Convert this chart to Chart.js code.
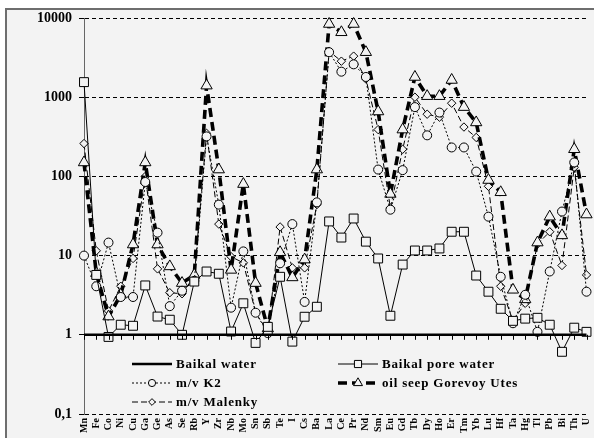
<!DOCTYPE html>
<html><head><meta charset="utf-8">
<script src="https://cdn.jsdelivr.net/npm/chart.js@4.4.0/dist/chart.umd.min.js"></script>
<style>
html,body{margin:0;padding:0;background:#fff;overflow:hidden;width:594px;height:438px;}
#frame{position:absolute;left:5px;top:8px;width:600px;height:440px;border:2px solid #6e6e6e;background:#f3f3f3;box-sizing:border-box;}
#wrap{position:absolute;left:0;top:0;width:594px;height:438px;}
canvas{display:block;}
</style></head><body>
<div id="frame"></div>
<div id="wrap"><canvas id="c" width="594" height="438" style="width:594px;height:438px"></canvas></div>
<script>
const elements = ["Mn","Fe","Co","Ni","Cu","Ga","Ge","As","Se","Rb","Y","Zr","Nb","Mo","Sn","Sb","Te","I","Cs","Ba","La","Ce","Pr","Nd","Sm","Eu","Gd","Tb","Dy","Ho","Er","Tm","Yb","Lu","Hf","Ta","Hg","Tl","Pb","Bi","Th","U"];
const baikalWater = [1,1,1,1,1,1,1,1,1,1,1,1,1,1,1,1,1,1,1,1,1,1,1,1,1,1,1,1,1,1,1,1,1,1,1,1,1,1,1,1,1,1];
const baikalPoreWater = [1550,5.7,0.94,1.34,1.3,4.2,1.7,1.55,1.0,4.7,6.3,5.9,1.1,2.5,0.79,1.26,5.4,0.82,1.69,2.26,27,16.9,29.4,15,9.2,1.74,7.7,11.6,11.6,12.3,20,20,5.6,3.5,2.13,1.5,1.6,1.64,1.34,0.61,1.23,1.09];
const mvK2 = [10,4.1,14.6,3.0,3.0,85,19.5,2.3,3.6,4.8,320,44,2.2,11.3,1.9,1.05,8,25,2.6,47,3700,2100,2600,1800,122,38,120,750,330,640,232,232,115,31,5.4,1.4,3.2,1.09,6.3,36,150,3.5];
const oilSeep = [150,6.0,1.7,3.2,13.8,150,13.8,7.3,4.5,5.7,1400,122,6.6,80,4.5,1.2,11,5.3,8.9,122,8400,6600,8400,3700,660,60,390,1800,1030,1030,1650,750,480,90,63,3.7,2.8,14.6,31,18,220,33];
const mvMalenky = [260,11.5,2.0,4.1,9.2,100,6.8,3.4,3.3,5.5,350,25,9.7,8.1,1.9,1.1,23,7,7,44,3800,2850,3300,1700,390,40,220,1000,610,560,840,420,310,75,4.1,1.5,2.5,14,20,7.5,130,5.7];
const yTickValues = [0.1,1,10,100,1000,10000];
const yTickLabels = ["0,1","1","10","100","1000","10000"];
const seriesNames = ["Baikal water","Baikal pore water","m/v K2","oil seep Gorevoy Utes","m/v Malenky"];

const BG = '#f3f3f3';
const serif = "'Liberation Serif','Times New Roman',serif";

function ds(label, data, extra){
  return Object.assign({label, data, borderColor:'#000', borderWidth:1, tension:0, clip:false,
    pointBackgroundColor:BG, pointBorderColor:'#000', pointBorderWidth:1, pointHoverRadius:0}, extra);
}
const datasets = [
  ds(seriesNames[0], baikalWater, {borderWidth:2.6, pointRadius:0}),
  ds(seriesNames[1], baikalPoreWater, {pointStyle:'rect', pointRadius:6.3}),
  ds(seriesNames[2], mvK2, {borderDash:[2,2], pointStyle:'circle', pointRadius:4.5}),
  ds(seriesNames[3], oilSeep, {borderWidth:3.6, borderDash:[9,5], pointStyle:'triangle', pointRadius:6.5}),
  ds(seriesNames[4], mvMalenky, {borderDash:[6,3], pointStyle:'rectRot', pointRadius:4.2})
];

const legendSpots = [[132,364],[338,364],[132,383],[338,383],[132,402]];
const extrasPlugin = {
  id:'extras',
  afterDraw(chart){
    const ctx = chart.ctx;
    const xs = chart.scales.x, ys = chart.scales.y;
    const y1 = ys.getPixelForValue(1);
    ctx.save();
    ctx.strokeStyle = '#000'; ctx.lineWidth = 1; ctx.setLineDash([]);
    for (let i = 0; i < elements.length; i++) {
      const x = Math.round(xs.getPixelForValue(i)) + 0.5;
      ctx.beginPath(); ctx.moveTo(x, y1); ctx.lineTo(x, y1 + 5); ctx.stroke();
    }
    ctx.font = "bold 13px " + serif;
    ctx.textBaseline = 'middle'; ctx.textAlign = 'left';
    try { ctx.letterSpacing = '0.8px'; } catch(e) {}
    chart.data.datasets.forEach((d, i) => {
      const [lx, ly] = legendSpots[i];
      const len = 40;
      ctx.save();
      ctx.strokeStyle = '#000';
      ctx.lineWidth = d.borderWidth;
      ctx.setLineDash(d.borderDash || []);
      ctx.beginPath(); ctx.moveTo(lx, ly); ctx.lineTo(lx + len, ly); ctx.stroke();
      ctx.restore();
      if (d.pointRadius > 0) {
        ctx.save();
        ctx.setLineDash([]);
        ctx.strokeStyle = '#000'; ctx.fillStyle = BG; ctx.lineWidth = 1;
        Chart.helpers.drawPoint(ctx, {pointStyle:d.pointStyle, radius:d.pointRadius*0.8, rotation:0, borderWidth:1}, lx + len/2, ly);
        ctx.restore();
      }
      ctx.fillStyle = '#000';
      ctx.fillText(d.label, lx + len + 4, ly + 1);
    });
    ctx.restore();
  }
};

new Chart(document.getElementById('c'), {
  type:'line',
  data:{labels:elements, datasets},
  options:{
    responsive:false, animation:false, devicePixelRatio:1,
    layout:{padding:{top:18, right:4, left:0, bottom:0}},
    plugins:{legend:{display:false}, tooltip:{enabled:false}},
    elements:{line:{borderCapStyle:'butt'}},
    scales:{
      x:{
        type:'category', offset:false,
        grid:{display:false, drawTicks:false},
        border:{display:false},
        ticks:{autoSkip:false, minRotation:90, maxRotation:90, padding:4, color:'#000',
          font:{family:serif, size:10, weight:'bold'}},
        afterFit(s){ s.height = 24; s.paddingLeft = 0; s.paddingRight = 0; }
      },
      y:{
        type:'logarithmic', min:0.1, max:10000,
        afterBuildTicks(s){ s.ticks = yTickValues.map(v => ({value:v})); },
        ticks:{color:'#000', padding:7, font:{family:serif, size:14, weight:'bold'},
          callback(v){ const k = yTickValues.indexOf(v); return k >= 0 ? yTickLabels[k] : null; }},
        grid:{color:'#000', lineWidth:1, tickLength:5, tickColor:'#000', tickBorderDash:[]},
        border:{display:true, color:'#666', width:1, dash:[4,3]},
        afterFit(s){ s.width = 84; }
      }
    }
  },
  plugins:[extrasPlugin]
});
</script>
</body></html>
